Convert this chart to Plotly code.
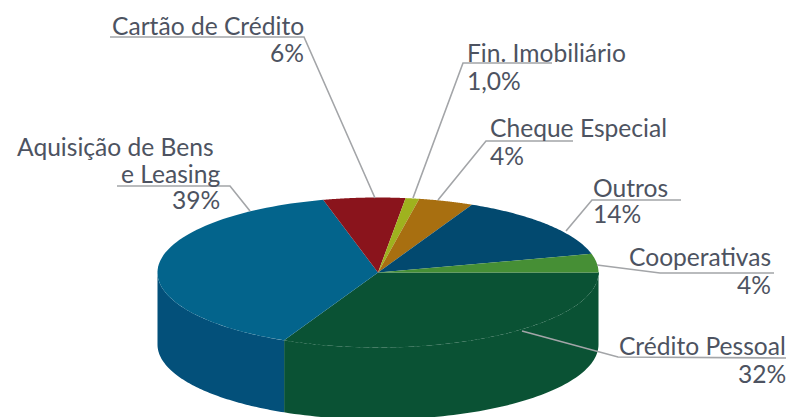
import numpy as np
import plotly.graph_objects as go

# Data, clockwise from the 3 o'clock position
categories = ["Crédito Pessoal", "Aquisição de Bens|e Leasing", "Cartão de Crédito",
              "Fin. Imobiliário", "Cheque Especial", "Outros", "Cooperativas"]
values = [32, 39, 6, 1, 4, 14, 4]
value_labels = ["32%", "39%", "6%", "1,0%", "4%", "14%", "4%"]
top_colors = ["#0a5234", "#03648c", "#8a141c", "#9fb21e", "#a86f10", "#02496f", "#468f35"]
wall_colors = ["#0a5234", "#03507a", "#6a0f15", "#7d8c18", "#84580c", "#023a58", "#0a5234"]

CX, CY, RX, RY, DEPTH = 378, 272.5, 220.5, 75, 72
TEXT = "#4d5361"
LINE = "#a3a5a8"
FONT = "Lato"
SIZE = 24.6

fractions = np.cumsum([0] + values) / sum(values) * 2 * np.pi


def ellipse(a, b, dy=0, n=80):
    t = np.linspace(a, b, n)
    return CX + RX * np.cos(t), CY + RY * np.sin(t) + dy


fig = go.Figure()

# Side walls: only the part of each slice facing the viewer (screen angles 0..pi)
for i, v in enumerate(values):
    a, b = fractions[i], min(fractions[i + 1], np.pi)
    if a >= b:
        continue
    x1, y1 = ellipse(a, b)
    x2, y2 = ellipse(b, a, DEPTH)
    fig.add_trace(go.Scatter(x=np.r_[x1, x2], y=np.r_[y1, y2], fill="toself", mode="none",
                             fillcolor=wall_colors[i], hoverinfo="skip", showlegend=False))

# Top faces
for i, v in enumerate(values):
    x1, y1 = ellipse(fractions[i], fractions[i + 1])
    fig.add_trace(go.Scatter(x=np.r_[CX, x1, CX], y=np.r_[CY, y1, CY], fill="toself", mode="none",
                             fillcolor=top_colors[i], hoverinfo="skip", showlegend=False,
                             name=categories[i]))

# Faint rim on the front edge of the first slice
xr, yr = ellipse(fractions[0], fractions[1])
fig.add_trace(go.Scatter(x=xr, y=yr, mode="lines", hoverinfo="skip", showlegend=False,
                         line=dict(color="#0e5839", width=1, dash="3px,6px")))

# label index -> text anchors (one entry per text line)
name_pos = [[(786, 345, "right")], [(214, 146, "right"), (220, 173, "right")], [(304, 25, "right")],
            [(467, 52, "left")], [(490, 127, "left")], [(593, 187, "left")], [(771, 256, "right")]]
value_pos = [(786, 373), (220, 199), (304, 52), (467, 80), (490, 155), (593, 213), (771, 284)]
leaders = [[(522, 331), (618, 357), (786, 358)],
           [(117, 186), (230, 186), (250, 211)],
           [(110, 37), (304, 37), (375, 198)],
           [(552, 63), (463, 63), (413, 198)],
           [(573, 141), (486, 141), (438, 200)],
           [(681, 200), (592, 200), (566, 231)],
           [(597, 265), (660, 273), (774, 273)]]

for i, cat in enumerate(categories):
    pts = leaders[i]
    fig.add_trace(go.Scatter(x=[p[0] for p in pts], y=[p[1] for p in pts], mode="lines",
                             line=dict(color=LINE, width=1.6), hoverinfo="skip", showlegend=False))
    for line_text, (xp, yp, side) in zip(cat.split("|"), name_pos[i]):
        fig.add_annotation(x=xp, y=yp, text=line_text, showarrow=False, xanchor=side, yanchor="middle",
                           font=dict(family=FONT, size=SIZE, color=TEXT), borderpad=0, borderwidth=0)
    fig.add_annotation(x=value_pos[i][0], y=value_pos[i][1], text=value_labels[i], showarrow=False,
                       xanchor=name_pos[i][-1][2], yanchor="middle",
                       font=dict(family=FONT, size=SIZE, color=TEXT), borderpad=0, borderwidth=0)

fig.update_layout(width=789, height=417, margin=dict(l=0, r=0, t=0, b=0),
                  paper_bgcolor="white", plot_bgcolor="white", showlegend=False,
                  xaxis=dict(range=[0, 789], visible=False, fixedrange=True),
                  yaxis=dict(range=[417, 0], visible=False, fixedrange=True))
fig.write_html("out.html", config=dict(displayModeBar=False),
               post_script="document.body.style.margin='0';document.documentElement.style.overflow='hidden';")
